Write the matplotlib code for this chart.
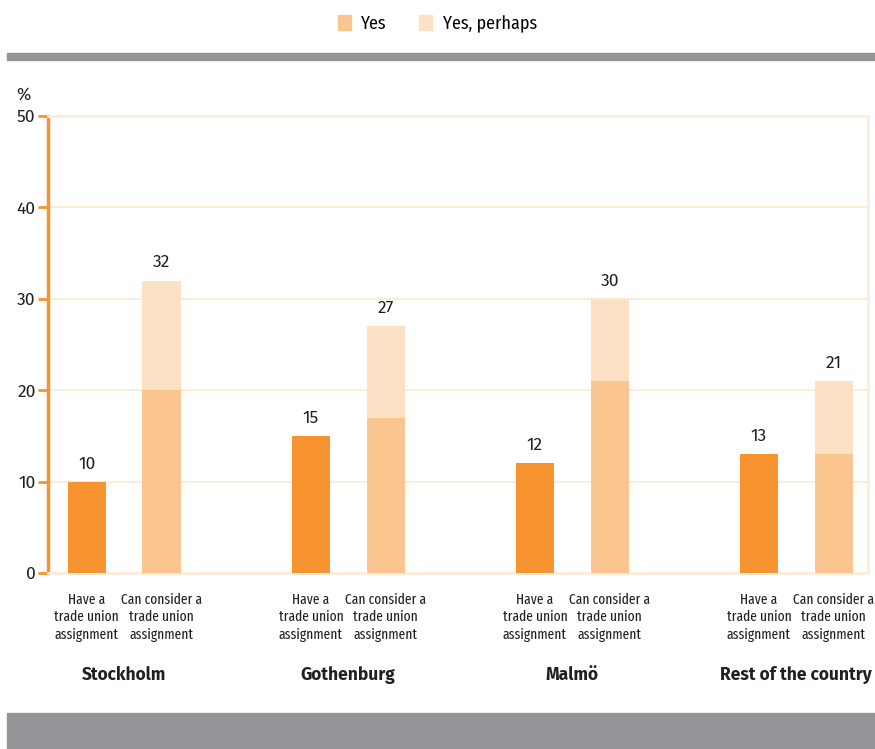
import matplotlib
matplotlib.use("Agg")
import matplotlib.pyplot as plt
from matplotlib.patches import Rectangle, Patch
import numpy as np

main_font = ['Fira Sans', 'Open Sans', 'DejaVu Sans']
cond_font = ['Fira Sans Condensed', 'Roboto Condensed', 'DejaVu Sans']
xcond_font = ['Fira Sans Extra Condensed', 'Fira Sans Condensed', 'DejaVu Sans']
plt.rcParams['font.family'] = main_font

regions = ["Stockholm", "Gothenburg", "Malmö", "Rest of the country"]
sub_labels = ["Have a\ntrade union\nassignment", "Can consider a\ntrade union\nassignment"]
have_yes = [10, 15, 12, 13]
consider_yes = [20, 17, 21, 13]
consider_perhaps = [12, 10, 9, 8]
consider_total = [32, 27, 30, 21]
yticks = [0, 10, 20, 30, 40, 50]

c_dark = "#F7942F"
c_mid = "#FBC590"
c_light = "#FDE1C5"
c_grid = "#FDEBDB"
c_gray = "#939598"
c_text = "#231F20"

fig = plt.figure(figsize=(8.75, 7.49), dpi=100)
ax = fig.add_axes([48/875, 1-573/749, (868-48)/875, (573-116)/749])

x_have = np.arange(len(regions)) * 3.0
x_cons = x_have + 1.0
w = 0.51

ax.bar(x_have, have_yes, width=w, color=c_dark, zorder=3)
ax.bar(x_cons, consider_yes, width=w, color=c_mid, zorder=3)
ax.bar(x_cons, consider_perhaps, width=w, bottom=consider_yes, color=c_light, zorder=3)

for x, v in zip(x_have, have_yes):
    ax.annotate(str(v), (x, v), xytext=(0, 7), textcoords="offset points",
                ha="center", va="bottom", fontsize=12.5, color=c_text)
for x, v in zip(x_cons, consider_total):
    ax.annotate(str(v), (x, v), xytext=(0, 7), textcoords="offset points",
                ha="center", va="bottom", fontsize=12.5, color=c_text)

ax.set_ylim(0, 50)
ax.set_xlim(-0.52, 10.46)
ax.set_yticks(yticks)
ax.set_yticklabels([str(t) for t in yticks], fontsize=12.5, color=c_text)
ax.tick_params(axis="y", length=7, width=2, color=c_dark, pad=2)
ax.yaxis.grid(True, color=c_grid, linewidth=1.5, zorder=0)
ax.set_axisbelow(True)

xt = np.ravel(np.column_stack([x_have, x_cons]))
ax.set_xticks(xt)
ax.set_xticklabels(sub_labels * len(regions), fontsize=10.5, color=c_text,
                   family=xcond_font, linespacing=1.3)
ax.tick_params(axis="x", length=0, pad=14)

for s in ["top", "right", "bottom"]:
    ax.spines[s].set_color(c_grid)
    ax.spines[s].set_linewidth(2)
ax.spines["left"].set_color(c_dark)
ax.spines["left"].set_linewidth(2.5)

for x, r in zip(x_have + 0.5, regions):
    ax.text(x, -(675-573)/457, r, transform=ax.get_xaxis_transform(),
            ha="center", va="center", fontsize=12.5, fontweight="bold", color=c_text)

fig.text(23/875, 1-95/749, "%", ha="center", va="center", fontsize=12.5, color=c_text)

fig.patches.append(Rectangle((7/875, 1-60/749), 868/875, 7/749, transform=fig.transFigure,
                             color=c_gray, zorder=0))
fig.patches.append(Rectangle((7/875, 0), 868/875, 36/749, transform=fig.transFigure,
                             color=c_gray, zorder=0))

handles = [Patch(color=c_mid, label="Yes"), Patch(color=c_light, label="Yes, perhaps")]
fig.legend(handles=handles, loc="center", bbox_to_anchor=(0.5, 1-24/749), ncol=2,
           frameon=False, handlelength=0.7, handleheight=0.9, handletextpad=0.6,
           columnspacing=1.8, prop={'size': 13, 'family': cond_font})

fig.savefig("out.png", dpi=100)
